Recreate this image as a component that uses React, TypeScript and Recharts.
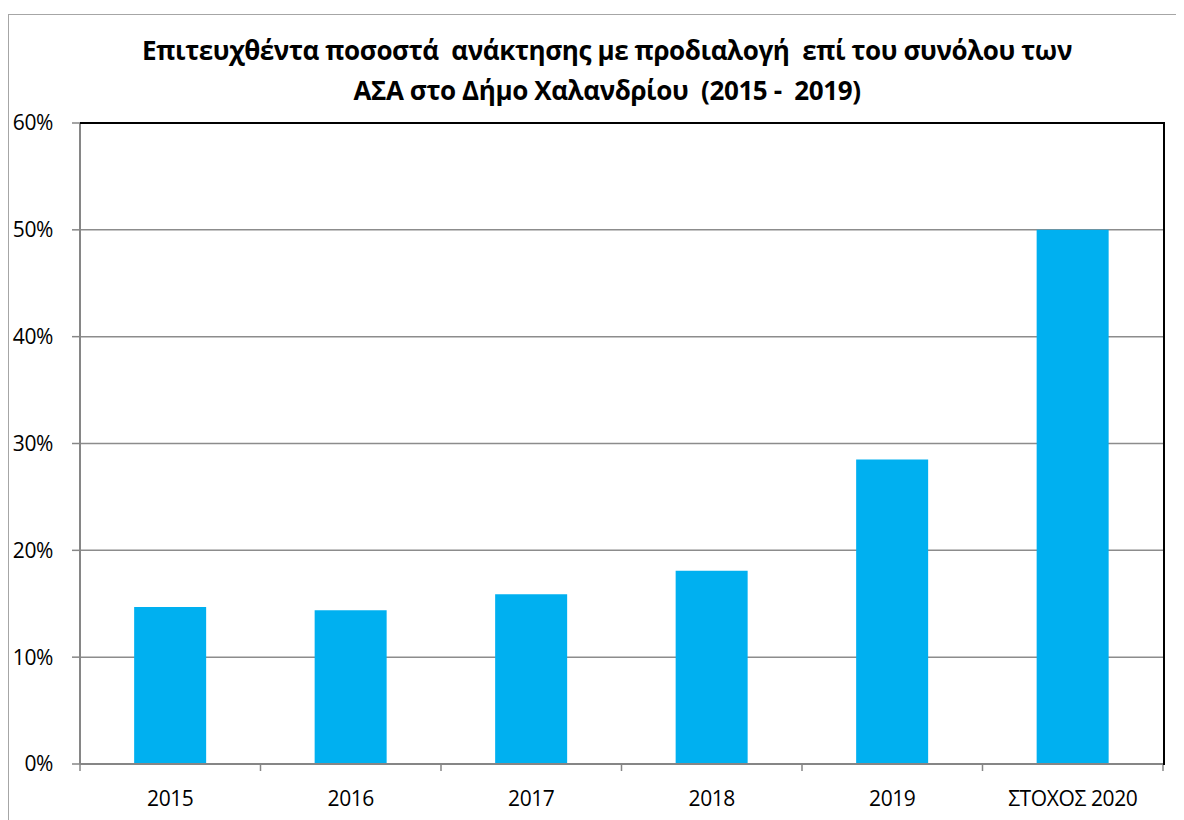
import { Bar, BarChart, CartesianGrid, XAxis, YAxis } from "recharts";

const years = ["2015", "2016", "2017", "2018", "2019", "ΣΤΟΧΟΣ 2020"];
const rates = [0.147, 0.144, 0.159, 0.181, 0.285, 0.5];
const yTicks = [0, 0.1, 0.2, 0.3, 0.4, 0.5, 0.6];

const titleLines = [
	"Επιτευχθέντα ποσοστά  ανάκτησης με προδιαλογή  επί του συνόλου των",
	"ΑΣΑ στο Δήμο Χαλανδρίου  (2015 -  2019)",
];

const data = years.map((y, i) => ({ year: y, rate: rates[i] }));

const W = 1176;
const H = 806;
const M = { top: 109, right: 21, left: 0, bottom: 0 };
const Y_W = 72;
const X_H = 56;
const FONT = "'Open Sans', 'Noto Sans', sans-serif";

function pct(v: number) {
	return `${Math.round(v * 100)}%`;
}

function YearTick(props: any) {
	const { x, y, payload, index } = props;
	const half = payload?.offset ?? (W - M.right - Y_W) / years.length / 2;
	const isLast = index === years.length - 1;
	return (
		<g>
			<line x1={x - half} y1={y} x2={x - half} y2={y + 7} stroke="#868686" strokeWidth={1.5} />
			{isLast && <line x1={x + half} y1={y} x2={x + half} y2={y + 7} stroke="#868686" strokeWidth={1.5} />}
			<text x={x} y={y + 42} textAnchor="middle" fill="#000" fontSize={21} fontFamily={FONT} letterSpacing={-0.4}>
				{payload.value}
			</text>
		</g>
	);
}

export default function App() {
	const plotLeft = M.left + Y_W;
	const plotTop = M.top;
	const plotW = W - M.right - plotLeft;
	const plotH = H - M.bottom - X_H - plotTop;
	return (
		<div
			style={{
				position: "relative",
				width: W,
				height: H,
				marginTop: 6,
				borderTop: "1.5px solid #a6a6a6",
				borderLeft: "1.5px solid #a6a6a6",
				boxSizing: "border-box",
				background: "#fff",
				overflow: "hidden",
			}}
		>
			<div
				style={{
					position: "absolute",
					left: 98,
					top: 15,
					width: 1000,
					textAlign: "center",
					fontFamily: FONT,
					fontWeight: 700,
					fontSize: 26,
					lineHeight: "40px",
					letterSpacing: -0.4,
					color: "#000",
					whiteSpace: "pre",
				}}
			>
				{titleLines.map((t) => (
					<div key={t}>{t}</div>
				))}
			</div>
			<div style={{ position: "absolute", left: -1.5, top: -1.5 }}>
				<BarChart width={W} height={H} data={data} margin={M} barCategoryGap="30%">
					<CartesianGrid vertical={false} stroke="#8c8c8c" strokeWidth={1.5} />
					<XAxis
						dataKey="year"
						interval={0}
						height={X_H}
						tickLine={false}
						tickSize={0}
						tickMargin={0}
						axisLine={{ stroke: "#868686", strokeWidth: 2 }}
						tick={<YearTick />}
					/>
					<YAxis
						width={Y_W}
						domain={[0, 0.6]}
						ticks={yTicks}
						tickFormatter={pct}
						tickSize={8}
						tickMargin={19}
						tickLine={{ stroke: "#868686", strokeWidth: 1.5 }}
						axisLine={{ stroke: "#868686", strokeWidth: 2 }}
						tick={{ fill: "#000", fontSize: 21, fontFamily: FONT, letterSpacing: -0.4 }}
					/>
					<Bar dataKey="rate" fill="#00b0f0" isAnimationActive={false} />
				</BarChart>
				<div
					style={{
						position: "absolute",
						left: plotLeft,
						top: plotTop - 1,
						width: plotW,
						height: plotH,
						borderTop: "2px solid #000",
						borderRight: "2px solid #000",
						pointerEvents: "none",
					}}
				/>
			</div>
		</div>
	);
}
